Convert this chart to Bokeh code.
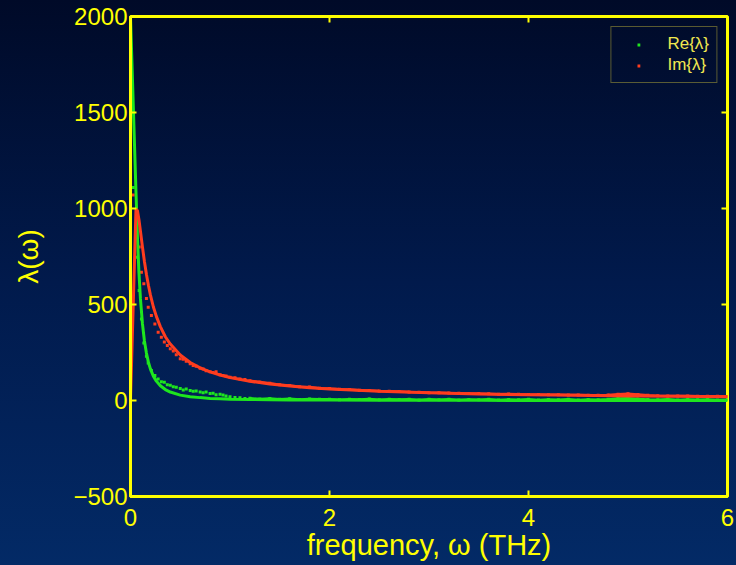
import math
from bokeh.plotting import figure
from bokeh.models import Range1d, Legend, LegendItem, FixedTicker, InlineStyleSheet
from bokeh.embed import file_html
from bokeh.resources import INLINE

# ---------------- data ----------------
# fitted model curves
freq_fit = [0.0, 0.055, 0.07, 0.085, 0.1, 0.12, 0.14, 0.16, 0.18, 0.2, 0.23, 0.26, 0.3,
            0.35, 0.4, 0.5, 0.6, 0.7, 0.8, 0.9, 1.0, 1.2, 1.4, 1.6, 1.8, 2.0, 2.5, 3.0,
            3.5, 4.0, 4.5, 5.0, 5.5, 6.0]
re_fit = [2000, 1087, 847, 665, 529, 400, 310, 247, 200, 165, 127, 101, 77,
          57, 44, 28, 20, 15, 11, 9, 7, 5, 4, 3, 2, 2, 1, 1,
          1, 0, 0, 0, 0, 0]
im_fit = [0, 997, 988, 942, 882, 800, 724, 658, 600, 550, 487, 438, 385,
          332, 294, 237, 198, 170, 149, 133, 120, 100, 86, 75, 67, 60, 48, 40,
          34, 30, 27, 24, 22, 20]

# measured data
freq_meas = [0.027, 0.06, 0.087, 0.11, 0.134, 0.16, 0.178, 0.21, 0.245, 0.278, 0.31, 0.34,
             0.37, 0.40, 0.43, 0.46, 0.50, 0.53, 0.56, 0.60, 0.63, 0.66, 0.70, 0.73,
             0.76, 0.80, 0.83, 0.86, 0.90, 0.93, 0.96, 1.00, 1.05, 1.10, 1.15, 1.20,
             1.3, 1.4, 1.5, 1.6, 1.7, 1.8, 1.9, 2.0, 2.1, 2.2, 2.3, 2.4, 2.5, 2.6, 2.7,
             2.8, 2.9, 3.0, 3.1, 3.2, 3.3, 3.4, 3.5, 3.6, 3.7, 3.8, 3.9, 4.0, 4.1, 4.2,
             4.3, 4.4, 4.5, 4.6, 4.7, 4.8, 4.9, 5.0, 5.1, 5.2, 5.3, 5.4, 5.5, 5.6, 5.7,
             5.8, 5.9, 6.0]
re_meas = [1110, 746, 573, 425, 300, 230, 195, 156, 130, 112, 98, 95,
           82, 80, 72, 69, 62, 55, 60, 52, 48, 50, 44, 40,
           44, 36, 38, 30, 32, 28, 24, 20, 16, 14, 10, 12,
           8, 10, 6, 9, 5, 8, 6, 7, 4, 7, 5, 8, 4, 6, 5,
           7, 3, 6, 4, 7, 3, 5, 4, 6, 3, 5, 4, 6, 3, 5,
           4, 6, 3, 5, 4, 7, 11, 12, 8, 5, 4, 6, 3, 5, 4,
           5, 3, 4]
im_meas = [1070, 930, 800, 668, 608, 531, 486, 443, 399, 356, 330, 305,
           286, 270, 258, 238, 217, 215, 205, 192, 182, 178, 168, 164,
           155, 150, 146, 150, 134, 130, 128, 121, 118, 112, 110, 103,
           96, 90, 82, 78, 72, 70, 64, 63, 58, 57, 53, 52, 49, 48, 47,
           44, 43, 41, 41, 39, 38, 37, 36, 35, 33, 34, 32, 31, 31, 30,
           30, 28, 28, 27, 27, 29, 33, 35, 31, 27, 25, 24, 23, 23, 22,
           22, 22, 21]

x_ticks = [0, 2, 4, 6]
y_ticks = [-500, 0, 500, 1000, 1500, 2000]
x_min, x_max = 0, 6
y_min, y_max = -500, 2000
series_labels = ["Re{λ}", "Im{λ}"]
x_label = "frequency, ω (THz)"
y_label = "λ(ω)"

# ---------------- styling ----------------
YEL = "#ffff00"
GREEN = "#1ee61e"
RED = "#ff3c1e"
FONT = "Liberation Sans"

p = figure(width=736, height=565, output_backend="svg", toolbar_location=None,
           x_range=Range1d(x_min, x_max), y_range=Range1d(y_min, y_max),
           min_border_left=130, min_border_right=9, min_border_top=16, min_border_bottom=69)

p.background_fill_alpha = 0
p.border_fill_alpha = 0
p.outline_line_color = YEL
p.outline_line_width = 3
p.grid.visible = False
p.stylesheets = [InlineStyleSheet(css=":host { background: linear-gradient(to bottom, #000a28 0%, #011a4c 50%, #032a66 100%); }")]

xa = p.xaxis[0]
ya = p.yaxis[0]
for ax, ticks in ((xa, x_ticks), (ya, y_ticks)):
    ax.ticker = FixedTicker(ticks=ticks)
    ax.axis_line_color = YEL
    ax.axis_line_width = 3
    ax.major_tick_line_color = YEL
    ax.major_tick_line_width = 2
    ax.major_tick_in = 6
    ax.major_tick_out = 0
    ax.minor_tick_line_color = None
    ax.major_label_text_color = YEL
    ax.major_label_text_font = FONT
    ax.major_label_text_font_size = "24px"
    ax.axis_label_text_color = YEL
    ax.axis_label_text_font = FONT
    ax.axis_label_text_font_style = "normal"

xa.major_label_standoff = 12
ya.major_label_standoff = 3
ya.major_label_overrides = {-500: "\u2212500"}
xa.axis_label = x_label
ya.axis_label = y_label
xa.axis_label_text_font_size = "29px"
ya.axis_label_text_font_size = "28px"
xa.axis_label_standoff = 0
ya.axis_label_standoff = 26

# inward ticks on the top and right edges of the box
p.scatter(x_ticks, [y_max] * len(x_ticks), marker="dash", size=12, angle=math.pi / 2,
          line_color=YEL, line_width=2)
p.scatter([x_max] * len(y_ticks), y_ticks, marker="dash", size=12,
          line_color=YEL, line_width=2)

# measured data (dots) and fitted curves
n_dense = 35  # from here on the measured points are dense and form a band
r_re = p.scatter(freq_meas, re_meas, marker="square", size=3, color=GREEN, line_width=0)
r_im = p.scatter(freq_meas, im_meas, marker="square", size=3, color=RED, line_width=0)
p.line(freq_meas[n_dense:], re_meas[n_dense:], line_color=GREEN, line_width=2.5)
p.line(freq_meas[n_dense:], im_meas[n_dense:], line_color=RED, line_width=2.5)
p.line(freq_fit, re_fit, line_color=GREEN, line_width=3)
p.line(freq_fit, im_fit, line_color=RED, line_width=3)

legend = Legend(items=[LegendItem(label=series_labels[0], renderers=[r_re]),
                       LegendItem(label=series_labels[1], renderers=[r_im])],
                location="top_right")
legend.margin = 10
legend.padding = 7
legend.spacing = 1
legend.glyph_width = 40
legend.glyph_height = 7
legend.label_standoff = 9
legend.label_height = 16
legend.label_text_font = FONT
legend.label_text_font_size = "17px"
legend.label_text_color = "#f0e850"
legend.background_fill_alpha = 0
legend.border_line_color = "#b4aa38"
legend.border_line_width = 1.5
p.add_layout(legend)

open("out.html", "w").write(file_html(p, INLINE))
